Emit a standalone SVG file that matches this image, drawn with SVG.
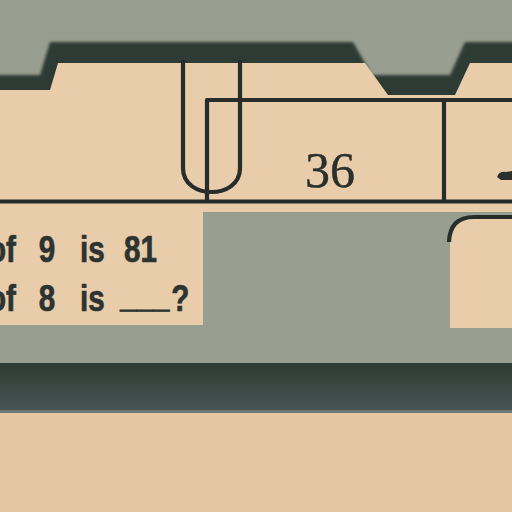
<svg xmlns="http://www.w3.org/2000/svg" width="512" height="512" viewBox="0 0 512 512">
  <defs>
    <filter id="soft" x="-5%" y="-20%" width="110%" height="140%">
      <feGaussianBlur stdDeviation="1.6"/>
    </filter>
    <linearGradient id="barGrad" x1="0" y1="0" x2="0" y2="1">
      <stop offset="0" stop-color="#2f3b36"/>
      <stop offset="0.35" stop-color="#38453f"/>
      <stop offset="1" stop-color="#4a5657"/>
    </linearGradient>
    <style>
      .ink { fill: none; stroke: #262d2a; stroke-width: 4.2; stroke-linejoin: round; }
      .beige { fill: #e9cdaa; }
      .q { font-family: "Liberation Sans", Arial, sans-serif; font-weight: bold; font-size: 37px; fill: #2c3431; stroke: #2c3431; stroke-width: 0.7; }
      .num { font-family: "Liberation Serif", "Times New Roman", serif; font-size: 50px; fill: #2a302d; stroke: #2a302d; stroke-width: 0.4; }
    </style>
  </defs>

  <g id="background">
    <rect x="0" y="0" width="512" height="512" fill="#989f90"/>
  </g>

  <g id="tab-outline">
    <path d="M-10,75 L40,75 L50,42 L353,42 L372,75 L450,75 L465,42 L522,42 L522,210 L-10,210 Z" fill="#2e3a35" filter="url(#soft)"/>
  </g>

  <g id="card">
    <path class="beige" d="M0,90 L50,90 L58,63 L365,63 L388,95 L455,95 L470,63 L512,63 L512,212 L0,212 Z"/>
    <rect class="beige" x="0" y="205" width="203" height="120"/>
    <path class="beige" d="M450,328 L450,238 Q450,216 472,216 L512,216 L512,328 Z"/>
    <path class="ink" d="M449,242 Q450,217 474,217 L512,217"/>
  </g>

  <g id="table">
    <path class="ink" d="M183,60 V168 C183,185 198,192 211.5,192 C225,192 240,185 240,168 V60"/>
    <path class="ink" d="M512,100 H207 V201.5"/>
    <line class="ink" x1="444" y1="100" x2="444" y2="201.5"/>
    <line class="ink" x1="0" y1="201.5" x2="512" y2="201.5"/>
    <text class="num" x="330" y="187" text-anchor="middle">36</text>
    <path d="M497,177 Q499,171 506,172 L512,171 L512,180 L501,180 Z" fill="#2a302d"/>
  </g>

  <g id="question">
    <text class="q" transform="scale(0.8,1)" y="262"><tspan x="-15">of</tspan><tspan x="48.5">9</tspan><tspan x="100">is</tspan><tspan x="155">81</tspan></text>
    <text class="q" transform="scale(0.8,1)" y="311"><tspan x="-15">of</tspan><tspan x="48.5">8</tspan><tspan x="100">is</tspan><tspan x="150" dy="-4">___</tspan><tspan x="214" dy="4">?</tspan></text>
  </g>

  <g id="bottom-bar">
    <rect x="0" y="363" width="512" height="50" fill="url(#barGrad)"/>
    <rect x="0" y="410" width="512" height="3" fill="#6d7672"/>
    <rect x="0" y="413" width="512" height="99" fill="#e5c6a2"/>
  </g>
</svg>
